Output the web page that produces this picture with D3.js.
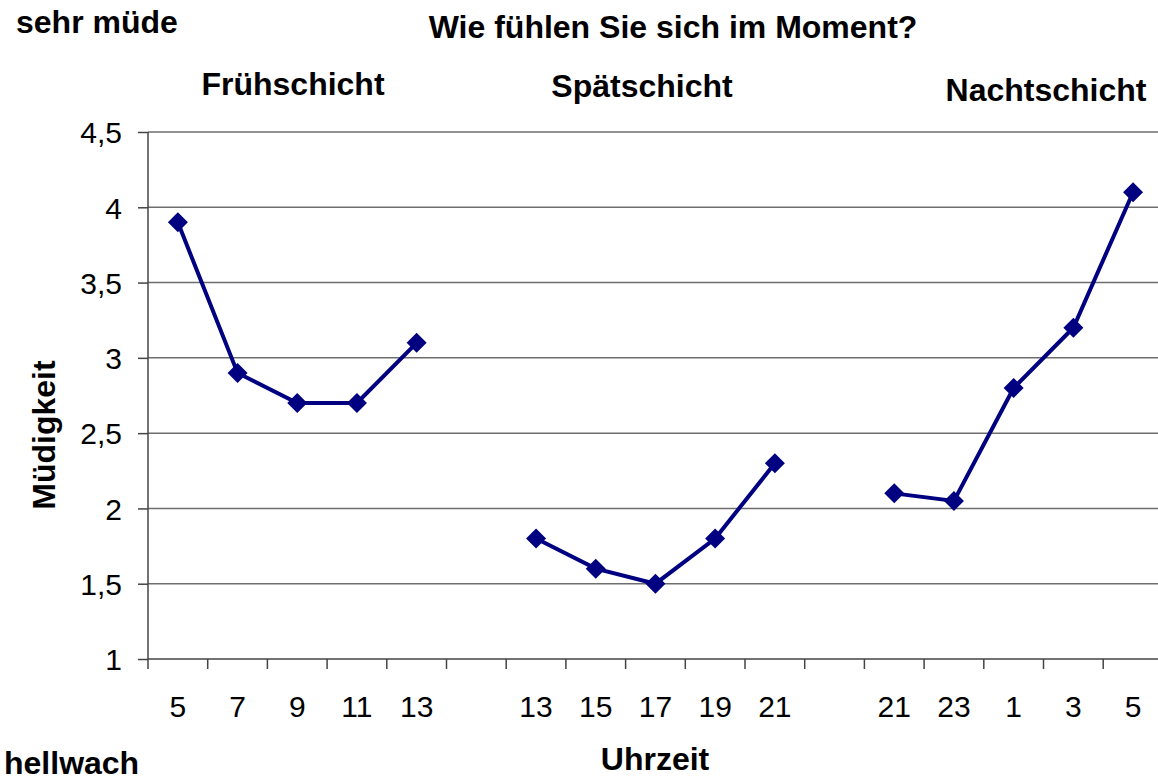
<!DOCTYPE html>
<html>
<head>
<meta charset="utf-8">
<script src="https://cdn.jsdelivr.net/npm/d3@7"></script>
<style>
    body { margin: 0; background: #fff; }
    text { font-family: "Liberation Sans", Arial, sans-serif; }
</style>
</head>
<body>
<svg id="chart" width="1158" height="782"></svg>
<script>
/**
 * Data.
 */
const hourLabels = ['5', '7', '9', '11', '13', '', '13', '15', '17', '19', '21', '', '21', '23', '1', '3', '5'];
const shiftNames = ['Frühschicht', 'Spätschicht', 'Nachtschicht'];
const fruehValues = [3.9, 2.9, 2.7, 2.7, 3.1];
const spaetValues = [1.8, 1.6, 1.5, 1.8, 2.3];
const nachtValues = [2.1, 2.05, 2.8, 3.2, 4.1];
const yTicks = [1, 1.5, 2, 2.5, 3, 3.5, 4, 4.5];

/**
 * Visual configs.
 */
const margin = { top: 132, left: 148 },
    bandWidth = 59.7,
    plotHeight = 527,
    navy = '#000080';

const svg = d3.select('#chart');
const slots = hourLabels.map((d, i) => i);

const x = d3.scaleBand()
    .domain(slots)
    .range([margin.left, margin.left + bandWidth * slots.length])
    .paddingInner(0).paddingOuter(0);

const y = d3.scaleLinear()
    .domain([1, 4.5])
    .range([margin.top + plotHeight, margin.top]);

// Each shift occupies five slots, separated by one empty slot
const series = [fruehValues, spaetValues, nachtValues].map((vals, s) =>
    vals.map((v, i) => ({ slot: s * 6 + i, value: v })));

// Gridlines
svg.append('g')
    .selectAll('line')
    .data(yTicks.slice(1))
    .join('line')
    .attr('x1', margin.left).attr('x2', 1158)
    .attr('y1', d => y(d)).attr('y2', d => y(d))
    .attr('stroke', '#6e6e6e')
    .attr('stroke-width', 1.5);

// Y axis
const yAxis = svg.append('g')
    .attr('transform', 'translate(' + margin.left + ',0)')
    .call(d3.axisLeft(y).tickValues(yTicks).tickSize(10).tickPadding(16)
        .tickFormat(d => String(d).replace('.', ',')));
yAxis.select('.domain').attr('stroke', '#444').attr('stroke-width', 1.5).attr('d', 'M0,' + y(1) + 'V' + y(4.5));
yAxis.selectAll('.tick line').attr('stroke', '#444').attr('stroke-width', 1.5);
yAxis.selectAll('.tick text')
    .attr('font-size', 30).attr('fill', '#000')
    .attr('font-family', '"Liberation Sans", Arial, sans-serif')
    .attr('dy', '0.36em');

// X axis: ticks between categories, labels in the middle of each band
const xAxis = svg.append('g').attr('transform', 'translate(0,' + y(1) + ')');
xAxis.append('line')
    .attr('x1', margin.left).attr('x2', 1158)
    .attr('stroke', '#444').attr('stroke-width', 1.5);
xAxis.selectAll('.xtick')
    .data(slots)
    .join('line')
    .attr('class', 'xtick')
    .attr('x1', d => x(d)).attr('x2', d => x(d))
    .attr('y1', 0).attr('y2', 10)
    .attr('stroke', '#444').attr('stroke-width', 1.5);
xAxis.selectAll('.xlabel')
    .data(slots)
    .join('text')
    .attr('class', 'xlabel')
    .attr('x', d => x(d) + x.bandwidth() / 2)
    .attr('y', 58)
    .attr('text-anchor', 'middle')
    .attr('font-size', 30)
    .text(d => hourLabels[d]);

// Lines and markers
const line = d3.line()
    .x(d => x(d.slot) + x.bandwidth() / 2)
    .y(d => y(d.value));

const seriesG = svg.append('g');
series.forEach(pts => {
    seriesG.append('path')
        .datum(pts)
        .attr('d', line)
        .attr('fill', 'none')
        .attr('stroke', navy)
        .attr('stroke-width', 4);

    seriesG.selectAll(null)
        .data(pts)
        .join('path')
        .attr('d', d3.symbol(d3.symbolSquare, 200))
        .attr('transform', d => 'translate(' + (x(d.slot) + x.bandwidth() / 2) + ',' + y(d.value) + ') rotate(45)')
        .attr('fill', navy);
});

// Texts
const bold = (t, px, py, anchor) => svg.append('text')
    .attr('x', px).attr('y', py)
    .attr('text-anchor', anchor || 'start')
    .attr('font-size', 32)
    .attr('font-weight', 'bold')
    .text(t);

bold('sehr müde', 16, 33);
bold('Wie fühlen Sie sich im Moment?', 673, 38, 'middle');
bold(shiftNames[0], 293, 95, 'middle');
bold(shiftNames[1], 642, 97, 'middle');
bold(shiftNames[2], 1046, 101, 'middle');
bold('hellwach', 4, 774);
bold('Uhrzeit', 655, 770, 'middle');
bold('Müdigkeit', 0, 0, 'middle')
    .attr('transform', 'translate(55,435) rotate(-90)');
</script>
</body>
</html>
